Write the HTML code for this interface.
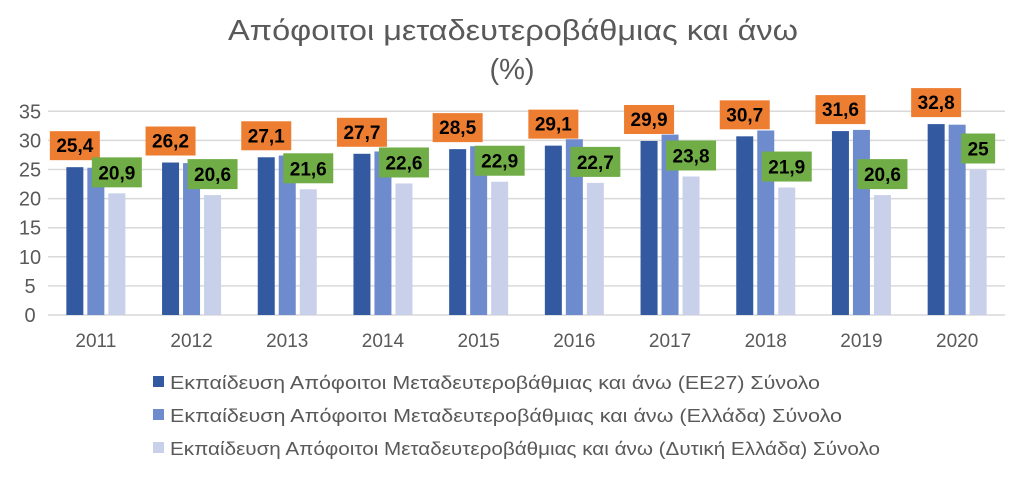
<!DOCTYPE html>
<html><head><meta charset="utf-8"><style>
body{margin:0;background:#fff;}
svg text{font-family:"Liberation Sans","DejaVu Sans",sans-serif;}
</style></head><body>
<svg id="chart" width="1024" height="476" xmlns="http://www.w3.org/2000/svg">
<text x="228" y="40" textLength="570" lengthAdjust="spacingAndGlyphs" font-size="29" fill="#595959">Απόφοιτοι μεταδευτεροβάθμιας και άνω</text>
<text x="512" y="79" text-anchor="middle" font-size="29" fill="#595959">(%)</text>
<g id="grid"></g><g id="bars"></g><g id="labels"></g>
<g>
<rect x="153" y="376" width="11" height="11" fill="#335aa1"/>
<text x="170" y="389" textLength="650" lengthAdjust="spacingAndGlyphs" font-size="18" fill="#595959">Εκπαίδευση Απόφοιτοι Μεταδευτεροβάθμιας και άνω (ΕΕ27) Σύνολο</text>
<rect x="153" y="409" width="11" height="11" fill="#6e8bcd"/>
<text x="170" y="422" textLength="672" lengthAdjust="spacingAndGlyphs" font-size="18" fill="#595959">Εκπαίδευση Απόφοιτοι Μεταδευτεροβάθμιας και άνω (Ελλάδα) Σύνολο</text>
<rect x="153" y="442" width="11" height="11" fill="#c9d0e9"/>
<text x="170" y="455" textLength="710" lengthAdjust="spacingAndGlyphs" font-size="18" fill="#595959">Εκπαίδευση Απόφοιτοι Μεταδευτεροβάθμιας και άνω (Δυτική Ελλάδα) Σύνολο</text>
</g>
</svg>
<script>
const categories=["2011","2012","2013","2014","2015","2016","2017","2018","2019","2020"];
const eu27=[25.4,26.2,27.1,27.7,28.5,29.1,29.9,30.7,31.6,32.8];
const greece=[25.3,26.1,27.4,28.1,29.0,30.2,31.0,31.7,31.8,32.7];
const westGreece=[20.9,20.6,21.6,22.6,22.9,22.7,23.8,21.9,20.6,25];
const yTicks=[0,5,10,15,20,25,30,35];
const NS="http://www.w3.org/2000/svg";
const x0=48,x1=1005,y0=315,yTop=111.3;
const y=v=>y0-(v/35)*(y0-yTop);
const bw=(x1-x0)/categories.length;
const cx=i=>x0+bw*(i+0.5);
function mk(tag,attrs,parent){const e=document.createElementNS(NS,tag);for(const k in attrs)e.setAttribute(k,attrs[k]);parent.appendChild(e);return e;}
const grid=document.getElementById('grid'),bars=document.getElementById('bars'),labels=document.getElementById('labels');
yTicks.forEach(t=>{
 const l=mk('line',{x1:x0,x2:x1,y1:y(t),y2:y(t),stroke:'#d9d9d9','stroke-width':1.5},grid);
 
 
 const tx=mk('text',{x:30,y:y(t)+7,'text-anchor':'middle','font-size':20,fill:'#595959'},grid);
 tx.textContent=t;
 
 
});
const series=[[eu27,'#335aa1','eu27'],[greece,'#6e8bcd','greece'],[westGreece,'#c9d0e9','west-greece']];
const w=17,gap=4;
categories.forEach((c,i)=>{
 series.forEach((s,j)=>{
  const bx=cx(i)+(j-1)*(w+gap)-w/2;
  const r=mk('rect',{x:bx,y:y(s[0][i]),width:w,height:y0-y(s[0][i]),fill:s[1]},bars);
  
  
 });
 const tx=mk('text',{x:cx(i),y:y0+32,'text-anchor':'middle','font-size':19,fill:'#595959'},grid);
 tx.textContent=c;
 
 
 const ox=cx(i)-(w+gap);
 const oy=y(eu27[i])-7;
 const ob=mk('rect',{x:ox-25,y:oy-29,width:50,height:29,fill:'#ed7d31'},labels);
 
 
 const ot=mk('text',{x:ox,y:oy-8,'text-anchor':'middle','font-size':19,'font-weight':'bold',fill:'#000'},labels);
 ot.textContent=String(eu27[i]).replace('.',',');
 
 
 const gx=cx(i)+(w+gap);
 const gy=y(westGreece[i])-6;
 const txt=String(westGreece[i]).replace('.',',');
 const gwid=txt.length>2?50:34;
 const gb=mk('rect',{x:gx-gwid/2,y:gy-30,width:gwid,height:30,fill:'#70ad47'},labels);
 
 
 const gt=mk('text',{x:gx,y:gy-8,'text-anchor':'middle','font-size':19,'font-weight':'bold',fill:'#000'},labels);
 gt.textContent=txt;
 
 
});
</script>
</body></html>
